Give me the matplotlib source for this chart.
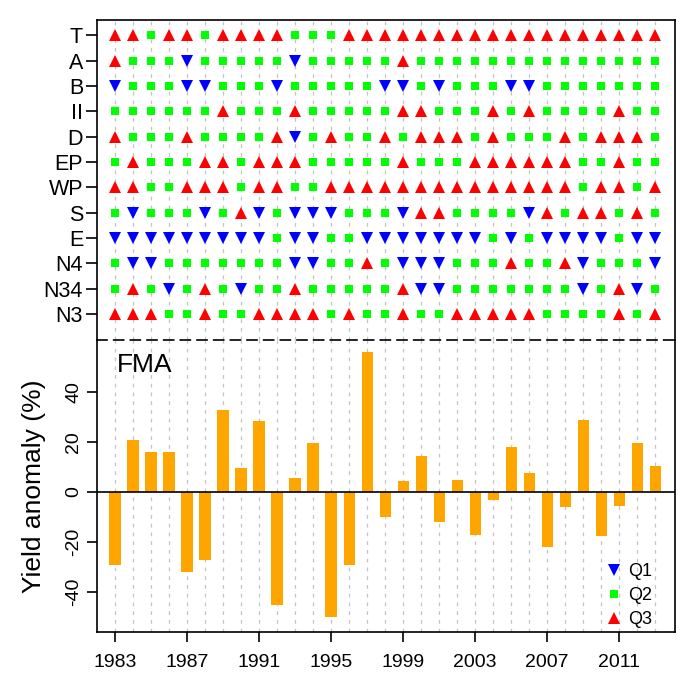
import matplotlib
matplotlib.use("Agg")
import matplotlib.pyplot as plt
from matplotlib.lines import Line2D
import numpy as np

plt.rcParams['font.family'] = ['Liberation Sans', 'DejaVu Sans']

years = list(range(1983, 2014))
xtick_years = [1983, 1987, 1991, 1995, 1999, 2003, 2007, 2011]

# Index rows, top to bottom; 1 = Q1, 2 = Q2, 3 = Q3
row_names = ["T", "A", "B", "II", "D", "EP", "WP", "S", "E", "N4", "N34", "N3"]

T   = [3,3,2,3,3,2,3,3, 3,3,2,2,2,3,3, 3,3,3,3,3,3,3,3, 3,3,3,3,3,3,3,3]
A   = [3,2,2,2,1,2,2,2, 2,2,1,2,2,2,2, 2,3,2,2,2,2,2,2, 2,2,2,2,2,2,2,2]
B   = [1,2,2,2,1,1,2,2, 2,1,2,2,2,2,2, 1,1,2,1,2,2,2,1, 1,2,2,2,2,2,2,2]
II  = [2,2,2,2,2,2,3,2, 2,2,3,2,2,2,2, 2,3,3,2,2,2,3,2, 3,2,2,2,2,3,2,2]
D   = [3,2,2,2,3,2,2,2, 2,3,1,2,3,2,2, 3,2,3,3,3,2,3,2, 2,2,3,2,3,3,3,2]
EP  = [2,3,2,2,2,3,3,2, 3,3,3,2,2,2,2, 2,3,2,2,2,3,3,3, 3,3,3,2,2,3,2,2]
WP  = [3,3,2,2,3,3,3,2, 3,3,2,2,3,3,3, 3,3,3,3,3,3,3,3, 3,3,3,2,3,3,2,3]
S   = [2,1,2,2,2,1,2,3, 1,2,1,1,1,2,2, 2,1,3,3,2,2,2,2, 1,3,2,3,3,2,3,2]
E   = [1,1,1,1,1,1,1,1, 1,2,1,1,2,2,1, 1,1,1,1,1,1,2,1, 2,1,1,1,1,2,1,1]
N4  = [2,1,1,2,2,2,2,2, 2,2,1,1,2,2,3, 2,1,1,1,2,2,2,3, 2,2,3,1,2,2,2,1]
N34 = [2,3,2,1,2,3,2,1, 2,2,3,2,2,2,2, 2,3,1,1,2,2,2,2, 2,2,2,1,2,3,1,2]
N3  = [3,3,3,2,2,3,2,2, 3,3,3,3,2,3,2, 2,3,2,2,3,3,3,3, 3,2,2,2,2,3,2,3]

rows = [T, A, B, II, D, EP, WP, S, E, N4, N34, N3]

# Yield anomaly (%) for the FMA season
yield_anomaly = [-29, 21, 16, 16, -32, -27, 33, 9.5, 28.5, -45, 5.5, 19.5,
                 -50, -29, 56, -10, 4.5, 14.5, -12, 5, -17, -3, 18, 7.5,
                 -22, -6, 29, -17.5, -5.5, 19.5, 10.5]

quantile_labels = ["Q1", "Q2", "Q3"]
quantile_colors = {1: "#0000FF", 2: "#00FF00", 3: "#FF0000"}
quantile_markers = {1: "v", 2: "s", 3: "^"}
quantile_sizes = {1: 8.8, 2: 6.0, 3: 8.8}

W, H = 689, 684
fig = plt.figure(figsize=(W / 100, H / 100), dpi=100)

left, right = 97 / W, 675 / W
top_y, mid_y, bot_y = 1 - 20 / H, 1 - 340 / H, 1 - 632 / H

ax_top = fig.add_axes([left, mid_y, right - left, top_y - mid_y])
ax_bot = fig.add_axes([left, bot_y, right - left, mid_y - bot_y])

xmin, xmax = 1982.0, 2014.1
grid_kw = dict(color="#C4C4C4", linestyle=(0, (3, 4)), linewidth=0.9, zorder=0)

# ---- top panel: quantile class of each index by year ----
n = len(row_names)
for i, (name, vals) in enumerate(zip(row_names, rows)):
    ypos = n - i
    for q in (1, 2, 3):
        xs = [yr for yr, v in zip(years, vals) if v == q]
        if xs:
            ax_top.plot(xs, [ypos] * len(xs), linestyle="none",
                        marker=quantile_markers[q],
                        markersize=quantile_sizes[q],
                        color=quantile_colors[q], markeredgewidth=0,
                        zorder=3)
for yr in years:
    ax_top.axvline(yr, **grid_kw)

ax_top.set_xlim(xmin, xmax)
ax_top.set_ylim(-0.02, n + 0.6)
ax_top.set_yticks([n - i for i in range(n)])
ax_top.set_yticklabels(row_names, fontsize=15.5)
ax_top.set_xticks([])
ax_top.spines["bottom"].set_visible(False)
for s in ("top", "left", "right"):
    ax_top.spines[s].set_linewidth(1.2)
ax_top.tick_params(axis="y", length=8, width=1.2, pad=2)

# ---- bottom panel: yield anomaly bars ----
for yr in years:
    ax_bot.axvline(yr, **grid_kw)
ax_bot.bar(years, yield_anomaly, width=0.62, color="#FFA500", zorder=2)
ax_bot.axhline(0, color="black", linewidth=1.2, zorder=3)

ax_bot.set_xlim(xmin, xmax)
ax_bot.set_ylim(-56, 60.8)
ax_bot.set_yticks([-40, -20, 0, 20, 40])
ax_bot.set_yticklabels(["-40", "-20", "0", "20", "40"], fontsize=14,
                       rotation=90, va="center")
ax_bot.set_xticks(xtick_years)
ax_bot.set_xticklabels([str(y) for y in xtick_years], fontsize=14)
ax_bot.tick_params(axis="both", length=7, width=1.2)
ax_bot.tick_params(axis="x", pad=9)
ax_bot.set_ylabel("Yield anomaly (%)", fontsize=19, labelpad=14)
ax_bot.spines["top"].set_linestyle((0, (6, 4)))
for s in ("top", "bottom", "left", "right"):
    ax_bot.spines[s].set_linewidth(1.2)

ax_bot.text(0.035, 0.955, "FMA", transform=ax_bot.transAxes,
            fontsize=19, ha="left", va="top")

handles = [Line2D([], [], linestyle="none", marker=quantile_markers[q],
                  markersize=quantile_sizes[q], color=quantile_colors[q],
                  markeredgewidth=0) for q in (1, 2, 3)]
ax_bot.legend(handles, quantile_labels, loc="lower right",
              bbox_to_anchor=(0.983, -0.031), frameon=False,
              fontsize=13, handletextpad=0.2, borderaxespad=0.3,
              labelspacing=0.4, handlelength=1.2)

fig.savefig("out.png", dpi=100)
